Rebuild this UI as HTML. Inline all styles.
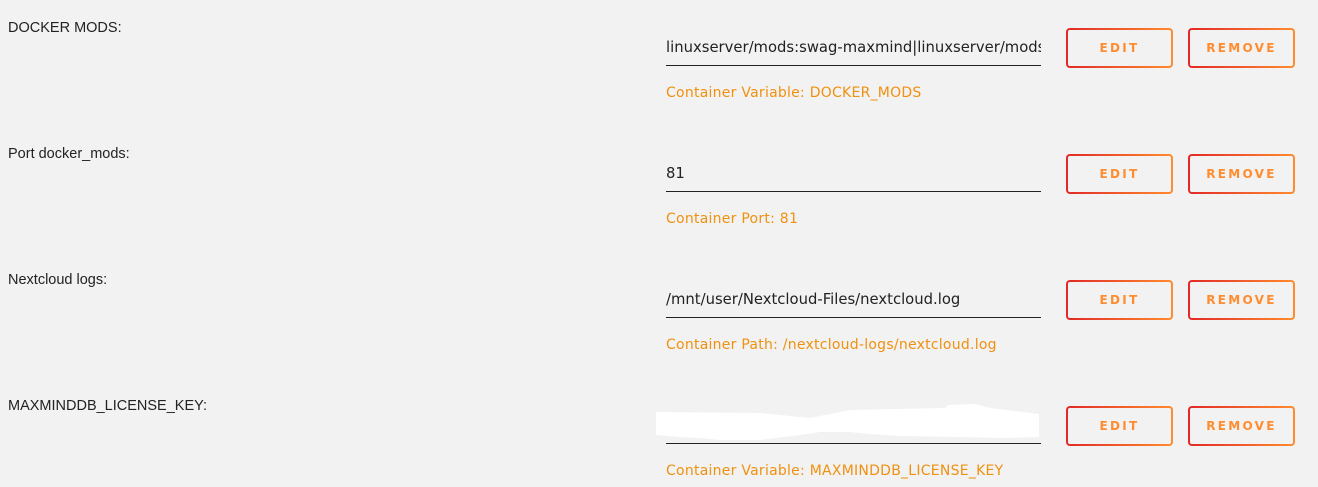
<!DOCTYPE html>
<html><head><style>
body{margin:0;width:1318px;height:487px;background:#f2f2f2;font-family:"Liberation Sans","DejaVu Sans",sans-serif;position:relative;overflow:hidden}
.l{position:absolute;left:8px;font-size:14.5px;color:#222;margin-top:1px}
.v{position:absolute;left:666px;width:375px;color:#222;border-bottom:1px solid #222;height:27px;white-space:nowrap;overflow:hidden;font-family:"DejaVu Sans",sans-serif;font-size:14.8px;line-height:20px}
.h{position:absolute;left:666px;font-size:14px;letter-spacing:0.25px;color:#f0900f;font-family:"DejaVu Sans",sans-serif;margin-top:1px}
.b{position:absolute;height:36px;border:2px solid transparent;border-radius:4px;background:linear-gradient(#f2f2f2,#f2f2f2) padding-box,linear-gradient(90deg,#e22828,#ff8c2e) border-box;box-sizing:content-box;color:#ff8c2e;font-size:12px;font-weight:bold;letter-spacing:2.3px;text-align:center;line-height:37px;font-family:"DejaVu Sans",sans-serif}
.e{left:1066px;width:103px}.r{left:1188px;width:103px}
</style></head><body>
<div class="l" style="top:19px">DOCKER MODS:</div>
<div class="v" style="top:38px">linuxserver/mods:swag-maxmind|linuxserver/mods</div>
<div class="h" style="top:84px">Container Variable: DOCKER_MODS</div>
<div class="b e" style="top:28px">EDIT</div><div class="b r" style="top:28px">REMOVE</div>

<div class="l" style="top:145px">Port docker_mods:</div>
<div class="v" style="top:164px">81</div>
<div class="h" style="top:210px">Container Port: 81</div>
<div class="b e" style="top:154px">EDIT</div><div class="b r" style="top:154px">REMOVE</div>

<div class="l" style="top:271px">Nextcloud logs:</div>
<div class="v" style="top:290px">/mnt/user/Nextcloud-Files/nextcloud.log</div>
<div class="h" style="top:336px">Container Path: /nextcloud-logs/nextcloud.log</div>
<div class="b e" style="top:280px">EDIT</div><div class="b r" style="top:280px">REMOVE</div>

<div class="l" style="top:397px">MAXMINDDB_LICENSE_KEY:</div>
<div class="v" style="top:416px"></div>
<svg style="position:absolute;left:0;top:0" width="1318" height="487"><polygon fill="#fff" points="656,412 760,413 810,418 850,410 945,408 948,405 975,404 990,408 1039,414 1039,437 1000,438 960,437 900,436 870,434 850,432 820,432 800,435 760,440 720,440 700,438 680,437 656,435"/></svg>
<div class="h" style="top:462px">Container Variable: MAXMINDDB_LICENSE_KEY</div>
<div class="b e" style="top:406px">EDIT</div><div class="b r" style="top:406px">REMOVE</div>
</body></html>
